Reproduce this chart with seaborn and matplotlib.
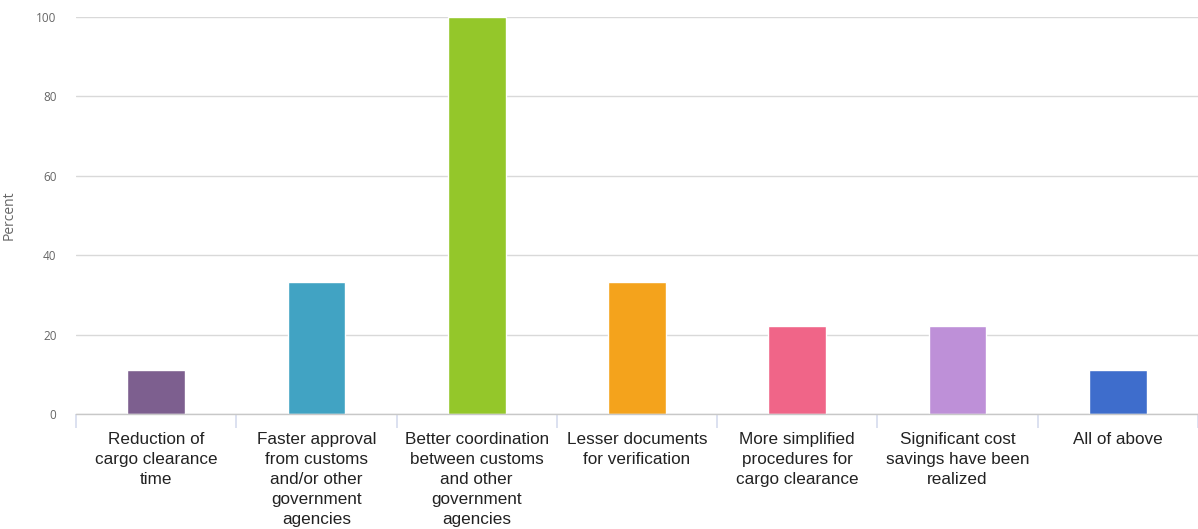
import pandas as pd
import seaborn as sns
import matplotlib.pyplot as plt
from matplotlib.ticker import FixedLocator

categories = ["Reduction of\ncargo clearance\ntime",
              "Faster approval\nfrom customs\nand/or other\ngovernment\nagencies",
              "Better coordination\nbetween customs\nand other\ngovernment\nagencies",
              "Lesser documents\nfor verification",
              "More simplified\nprocedures for\ncargo clearance",
              "Significant cost\nsavings have been\nrealized",
              "All of above"]
percent = [11.1, 33.3, 100.0, 33.3, 22.2, 22.2, 11.1]
colors = ["#7D5F8F", "#41A3C3", "#94C72A", "#F4A31C", "#F06588", "#BE90D8", "#3E6DCC"]

df = pd.DataFrame({"category": categories, "percent": percent})

sns.set_style("white")
plt.rcParams['font.family'] = ['Liberation Sans', 'DejaVu Sans']

fig = plt.figure(figsize=(11.98, 5.29), dpi=100)
ax = fig.add_axes([0.0634, 0.2174, 0.9366, 0.7505])

sns.barplot(data=df, x="category", y="percent", hue="category", palette=colors,
            legend=False, width=0.36, ax=ax, saturation=1)

ax.set_ylim(0, 100)
ax.set_xlim(-0.5, 6.5)
ax.set_yticks([0, 20, 40, 60, 80, 100])
ax.yaxis.grid(True, color="#d9d9d9", linewidth=1)
ax.set_axisbelow(True)
for s in ["top", "right", "left"]:
    ax.spines[s].set_visible(False)
ax.spines["bottom"].set_color("#c8c8c8")
ax.spines["bottom"].set_linewidth(1)

ax.tick_params(axis="y", length=0, pad=14, labelsize=8.5, labelcolor="#666666")
for t in ax.get_yticklabels():
    t.set_family(["Open Sans", "DejaVu Sans"])
ax.tick_params(axis="x", which="major", bottom=True, length=0, pad=13, labelsize=12.3, labelcolor="#222222")
ax.xaxis.set_minor_locator(FixedLocator([i - 0.5 for i in range(8)]))
ax.tick_params(axis="x", which="minor", bottom=True, length=10, color="#d5dced", width=1.2)

ax.set_xlabel("")
ax.set_ylabel("Percent", fontsize=10, color="#666666", labelpad=14)
ax.yaxis.label.set_family(["Open Sans", "DejaVu Sans"])

for t in ax.get_xticklabels():
    t.set_verticalalignment("top")
    t.set_linespacing(1.42)

fig.savefig("out.png", dpi=100)
